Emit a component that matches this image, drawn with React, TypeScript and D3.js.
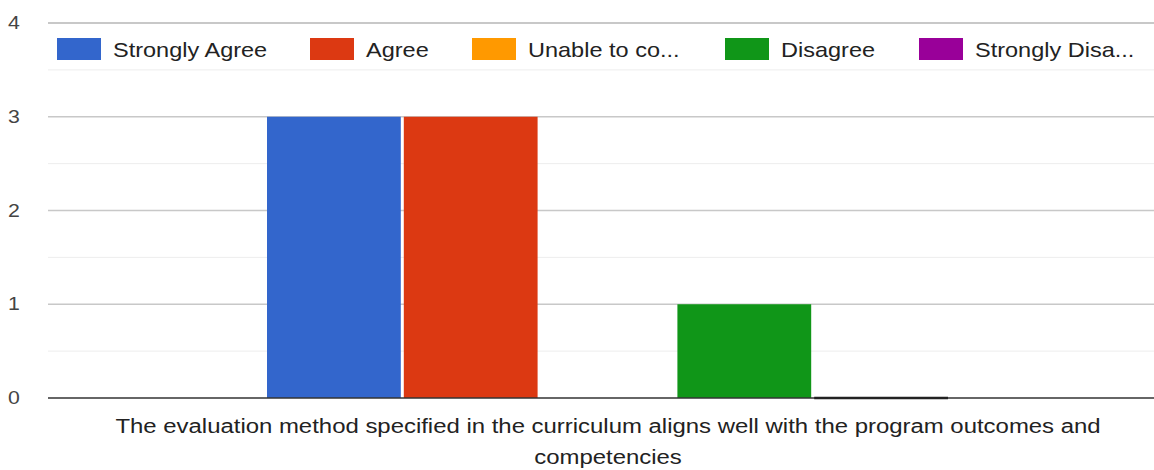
import React from "react";
import * as d3 from "d3";

const categories = ["The evaluation method specified in the curriculum aligns well with the program outcomes and competencies"];
const categoryLines = ["The evaluation method specified in the curriculum aligns well with the program outcomes and", "competencies"];
const seriesNames = ["Strongly Agree", "Agree", "Unable to co...", "Disagree", "Strongly Disa..."];
const seriesValues = [3, 3, 0, 1, 0];
const seriesColors = ["#3366cc", "#dc3912", "#ff9900", "#109618", "#990099"];
const yTicks = [0, 1, 2, 3, 4];
const yMinor = [0.5, 1.5, 2.5, 3.5];

export default function App() {
  const W = 1154, H = 470;
  const left = 48, right = 1167;
  const y = d3.scaleLinear().domain([0, 4]).range([398, 23]);
  const x0 = d3.scaleBand().domain(categories).range([left, right]).paddingInner(0).paddingOuter(0.3216);
  const x1 = d3.scaleBand().domain(seriesNames).range([x0(categories[0])!, x0(categories[0])! + x0.bandwidth()]).paddingInner(0.022);
  const legendX = [57, 310, 472, 725, 919];
  const font = "Liberation Sans, Arial, sans-serif";
  const sxL = 1.12;
  const sxA = 1.14;
  return (
    <svg width={W} height={H} style={{ position: "absolute", left: 0, top: 0 }} fontFamily={font}>
      <rect width={W} height={H} fill="#fff" />
      {yMinor.map((t) => (
        <line key={"m" + t} x1={left} x2={W} y1={y(t)} y2={y(t)} stroke="#ededed" strokeWidth={1} />
      ))}
      {yTicks.map((t) => (
        <g key={t}>
          {t > 0 && <line x1={left} x2={W} y1={y(t)} y2={y(t)} stroke="#c8c8c8" strokeWidth={t === 4 ? 2 : 1.5} />}
          <text transform={`translate(14,${y(t) + 6}) scale(${sxL},1)`} fontSize={19} fill="#444" textAnchor="middle">{t}</text>
        </g>
      ))}
      {seriesNames.map((s, i) => (
        <rect key={s} x={x1(s)} y={y(seriesValues[i])} width={x1.bandwidth()} height={y(0) - y(seriesValues[i])} fill={seriesColors[i]} />
      ))}
      <line x1={left} x2={W} y1={y(0)} y2={y(0)} stroke="#333" strokeWidth={1.5} />
      {seriesNames.map((s, i) => seriesValues[i] === 0 && i === seriesNames.length - 1 ? (
        <line key={"z" + s} x1={x1(s)} x2={x1(s)! + x1.bandwidth()} y1={y(0)} y2={y(0)} stroke="#222" strokeWidth={2.5} />
      ) : null)}
      <rect x={left} y={30} width={W - left} height={38} fill="#fff" />
      {seriesNames.map((s, i) => (
        <g key={"l" + s}>
          <rect x={legendX[i]} y={38} width={44} height={22} fill={seriesColors[i]} />
          <text transform={`translate(${legendX[i] + 56},57) scale(${sxL},1)`} fontSize={21} fill="#222">{s}</text>
        </g>
      ))}
      {categoryLines.map((l, i) => (
        <text key={l} transform={`translate(608,${433 + i * 31}) scale(${sxA},1)`} fontSize={21} fill="#222" textAnchor="middle">{l}</text>
      ))}
    </svg>
  );
}
